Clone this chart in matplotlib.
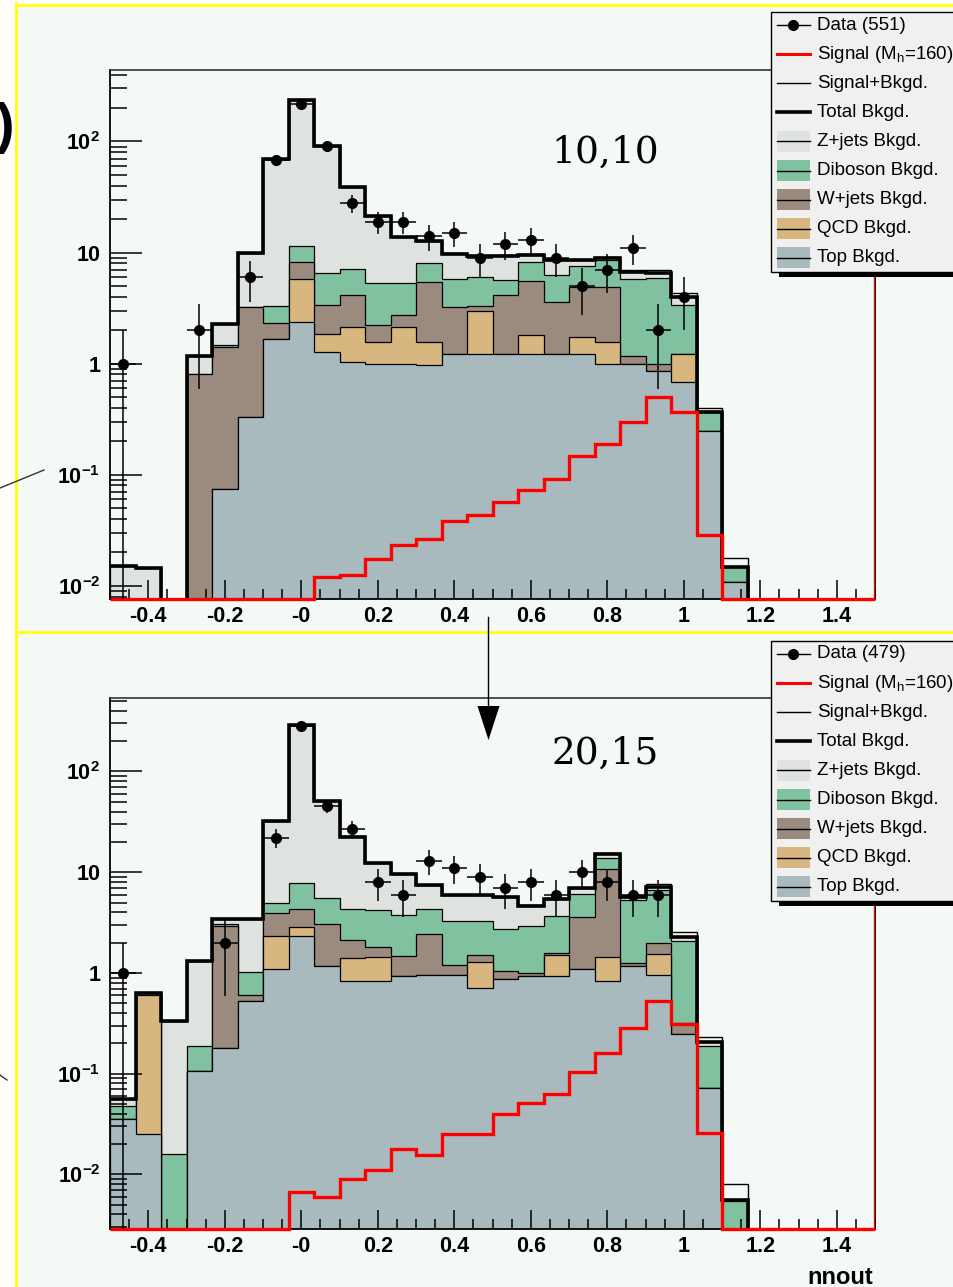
import numpy as np
import matplotlib
matplotlib.use("Agg")
import matplotlib.pyplot as plt
from matplotlib.patches import Rectangle, Polygon
from matplotlib.ticker import LogLocator, MultipleLocator, NullFormatter

plt.rcParams['font.family'] = ['Liberation Sans', 'DejaVu Sans']
plt.rcParams['mathtext.fontset'] = 'custom'
plt.rcParams['mathtext.rm'] = 'Liberation Sans'
plt.rcParams['mathtext.default'] = 'regular'

# nnout histograms: 30 bins from -0.5 to 1.5
edges = np.linspace(-0.5, 1.5, 31)

# cut 10,10
data_1010 = [1, 0, 0, 2, 0, 6, 68, 216, 91, 28, 19, 19, 14, 15, 9, 12, 13, 9, 5, 7,
             11, 2, 4, 0, 0, 0, 0, 0, 0, 0]
signal_1010 = [0, 0, 0, 0, 0, 0, 0, 0, 0.012, 0.0125, 0.0175, 0.0234, 0.0262, 0.0385,
               0.0434, 0.057, 0.0728, 0.0915, 0.146, 0.189, 0.30, 0.497, 0.364, 0.0288,
               0.0028, 0, 0, 0, 0, 0]
ttbar_1010 = [0, 0, 0, 0, 0.074, 0.333, 1.67, 2.35, 1.28, 1.03, 1.0, 0.99, 0.97, 1.22,
              1.22, 1.22, 1.22, 1.22, 1.22, 1.0, 1.0, 0.865, 0.68, 0.249, 0.0107,
              0, 0, 0, 0, 0]
qcd_1010 = [0, 0, 0, 0, 0, 0, 0, 3.41, 0.58, 1.12, 0.58, 1.16, 0.58, 0, 1.78, 0, 0.59,
            0, 0.51, 0.56, 0, 0, 0.54, 0, 0, 0, 0, 0, 0, 0]
wjets_1010 = [0, 0, 0, 0.80, 1.33, 2.90, 0.63, 2.44, 1.50, 1.98, 0.65, 0.58, 3.85, 2.01,
              0.27, 2.94, 3.79, 2.35, 3.14, 3.31, 0.18, 0.135, 0, 0, 0, 0, 0, 0, 0, 0]
diboson_1010 = [0, 0, 0, 0, 0.07, 0, 1.0, 3.2, 3.14, 3.02, 3.13, 2.63, 2.6, 2.53, 2.81,
                1.54, 2.7, 2.73, 2.73, 3.63, 4.62, 4.87, 2.16, 0.116, 0.0041,
                0, 0, 0, 0, 0]
zjets_1010 = [0.015, 0.0145, 0, 0.36, 0.79, 6.77, 66.3, 226.6, 84.2, 31.55, 16.04, 8.54,
              4.7, 4.04, 3.18, 3.7, 1.3, 2.2, 0.9, 0.4, 0.85, 0.63, 0.58, 0.005,
              0, 0, 0, 0, 0, 0]

# cut 20,15
data_2015 = [1, 0, 0, 0, 2, 0, 22, 284, 45, 27, 8, 6, 13, 11, 9, 7, 8, 6, 10, 8,
             6, 6, 0, 0, 0, 0, 0, 0, 0, 0]
signal_2015 = [0, 0, 0, 0, 0, 0, 0, 0.00676, 0.00598, 0.00898, 0.011, 0.0177, 0.0156,
               0.0253, 0.025, 0.04, 0.051, 0.063, 0.105, 0.16, 0.287, 0.527, 0.312,
               0.0257, 0.0025, 0, 0, 0, 0, 0]
ttbar_2015 = [0.0351, 0.0251, 0, 0.107, 0.18, 0.523, 1.1, 2.34, 1.17, 0.83, 0.83, 0.94,
              0.96, 0.96, 0.71, 0.866, 0.93, 0.93, 1.1, 0.84, 1.16, 0.955, 0.246,
              0.0728, 0, 0, 0, 0, 0, 0]
qcd_2015 = [0, 0.575, 0, 0, 0, 0, 1.21, 0.53, 0, 0.58, 0.61, 0, 0, 0, 0.57, 0, 0, 0.58,
            0, 0.61, 0, 0.575, 0, 0, 0, 0, 0, 0, 0, 0]
wjets_2015 = [0, 0, 0, 0, 2.72, 0.087, 1.61, 1.48, 1.9, 0.71, 0.37, 0.53, 1.48, 0.24,
              0.22, 0.184, 0.06, 0.06, 2.52, 9.25, 0.09, 0.44, 0.075, 0, 0, 0, 0, 0, 0, 0]
diboson_2015 = [0.0129, 0, 0.0159, 0.082, 0.16, 0.41, 1.08, 3.42, 2.45, 2.23, 2.37, 2.29,
                1.91, 2.08, 1.78, 1.67, 1.94, 2.11, 2.46, 3.0, 4.05, 4.69, 1.73, 0.116,
                0.0055, 0, 0, 0, 0, 0]
zjets_2015 = [0.008, 0.03, 0.315, 1.11, 0.4, 2.44, 26.9, 281, 44.9, 18.25, 8.12, 5.84,
              3.05, 2.61, 2.61, 2.92, 1.69, 1.74, 0.84, 1.5, 0.34, 0.52, 0.21, 0.019,
              0.0001, 0, 0, 0, 0, 0]

xtick_vals = [-0.4, -0.2, 0, 0.2, 0.4, 0.6, 0.8, 1.0, 1.2, 1.4]
xtick_labels = ['-0.4', '-0.2', '-0', '0.2', '0.4', '0.6', '0.8', '1', '1.2', '1.4']
ytick_vals = [1e-2, 1e-1, 1, 10, 100]
ytick_labels = ['$10^{-2}$', '$10^{-1}$', '1', '10', '$10^{2}$']

# stack order, bottom to top
bkg_names = ['Top Bkgd.', 'QCD Bkgd.', 'W+jets Bkgd.', 'Diboson Bkgd.', 'Z+jets Bkgd.']
bkg_colors = ['#a9babe', '#d8b67f', '#9b8b7e', '#80c1a0', '#dfe3df']

panel_bg = '#f5f9f6'
W, H = 954, 1287
FLOOR = 1e-6


def px_axes(fig, left, top, right, bottom, **kw):
    return fig.add_axes([left / W, 1 - bottom / H, (right - left) / W, (bottom - top) / H], **kw)


def draw_panel(ax, data, signal, comps, ylim):
    cum = np.cumsum(np.array(comps, dtype=float), axis=0)
    for layer, color in reversed(list(zip(cum, bkg_colors))):
        ax.stairs(np.where(layer > 0, layer, FLOOR), edges, baseline=FLOOR, fill=True,
                  facecolor=color, edgecolor='black', linewidth=0.9)
    total = cum[-1]
    sig = np.array(signal, dtype=float)
    sb = total + sig
    ax.stairs(np.where(sb > 0, sb, FLOOR), edges, baseline=None, color='black', linewidth=1.0)
    ax.stairs(np.where(total > 0, total, FLOOR), edges, baseline=None, color='black', linewidth=2.6)
    ax.stairs(np.clip(sig, ylim[0], None), edges, baseline=None, color='red',
              linewidth=2.4, clip_on=False, zorder=4)
    ax.vlines(edges[-1], ylim[0], ylim[1], color='red', linewidth=2.4, zorder=4)

    d = np.array(data, dtype=float)
    m = d > 0
    centers = 0.5 * (edges[1:] + edges[:-1])
    half = 0.5 * np.diff(edges)
    err = np.sqrt(d[m])
    lower = d[m] - np.maximum(d[m] - err, FLOOR)
    ax.errorbar(centers[m], d[m], xerr=half[m], yerr=[lower, err], fmt='o', color='black',
                ms=7, elinewidth=1.1, capsize=0, zorder=5)

    ax.set_xlim(edges[0], edges[-1])
    ax.set_yscale('log')
    ax.set_ylim(*ylim)
    ax.set_facecolor('none')
    ax.set_xticks(xtick_vals, xtick_labels, fontweight='bold', fontsize=15.5)
    ax.set_yticks(ytick_vals, ytick_labels, fontweight='bold', fontsize=15.5)
    ax.xaxis.set_minor_locator(MultipleLocator(0.05))
    ax.yaxis.set_minor_locator(LogLocator(base=10, subs=np.arange(2, 10)))
    ax.yaxis.set_minor_formatter(NullFormatter())
    ax.tick_params(which='both', direction='in', width=1.1, colors='black')
    ax.tick_params(axis='y', which='major', length=23, pad=7)
    ax.tick_params(axis='y', which='minor', length=12)
    ax.tick_params(axis='x', which='major', length=14, pad=5)
    ax.tick_params(axis='x', which='minor', length=7)
    for side in ['left', 'bottom', 'right']:
        ax.spines[side].set_linewidth(1.3)
    ax.spines['top'].set_linewidth(1.2)
    ax.spines['top'].set_color('#333333')


def draw_legend(ov, top, n_data):
    rows = [
        (f'Data ({n_data})', 'data', None),
        ('Signal (M$_h$=160)', 'line', ('red', 2.2)),
        ('Signal+Bkgd.', 'line', ('black', 1.0)),
        ('Total Bkgd.', 'line', ('black', 2.6)),
    ] + [(name, 'box', color) for name, color in zip(bkg_names[::-1], bkg_colors[::-1])]
    ov.add_patch(Rectangle((779, top + 5), 260, 260, facecolor='black', lw=0, zorder=1))
    ov.add_patch(Rectangle((771, top), 260, 260, facecolor='#f0f0f0', edgecolor='black',
                           lw=1.0, zorder=2))
    for i, (label, kind, style) in enumerate(rows):
        y = top + 13 + i * 29.1
        if kind == 'data':
            ov.plot([777, 810], [y, y], color='black', lw=1, zorder=3)
            ov.plot([793.5], [y], 'o', color='black', ms=7, zorder=3)
        elif kind == 'line':
            ov.plot([777, 810], [y, y], color=style[0], lw=style[1], zorder=3)
        else:
            ov.add_patch(Rectangle((777, y - 10.5), 33, 21, facecolor=style, lw=0, zorder=3))
            ov.plot([777, 810], [y, y], color='black', lw=1, zorder=4)
        ov.text(817, y, label, fontsize=13.5, va='center', ha='left', zorder=4)


fig = plt.figure(figsize=(W / 100, H / 100), dpi=100, facecolor='white')

bg = fig.add_axes([0, 0, 1, 1], zorder=-1)
bg.set_xlim(0, W)
bg.set_ylim(H, 0)
bg.axis('off')
bg.add_patch(Rectangle((16, 4), W, H, facecolor=panel_bg, lw=0))
yellow = '#ffff22'
bg.plot([16, 16], [3, H], color=yellow, lw=2.3)
bg.plot([16, W], [4.5, 4.5], color=yellow, lw=2.3)
bg.plot([16, W], [632, 632], color=yellow, lw=2.3)

ax1 = px_axes(fig, 110, 70, 875, 599)
draw_panel(ax1, data_1010, signal_1010,
           [ttbar_1010, qcd_1010, wjets_1010, diboson_1010, zjets_1010], (0.0076, 440))

ax2 = px_axes(fig, 110, 698, 875, 1229)
draw_panel(ax2, data_2015, signal_2015,
           [ttbar_2015, qcd_2015, wjets_2015, diboson_2015, zjets_2015], (0.00287, 536))

ov = fig.add_axes([0, 0, 1, 1], zorder=10)
ov.set_xlim(0, W)
ov.set_ylim(H, 0)
ov.axis('off')
ov.patch.set_alpha(0)

draw_legend(ov, 12, sum(data_1010))
draw_legend(ov, 641, sum(data_2015))

ov.text(605, 153, '10,10', family='DejaVu Serif', fontsize=27, ha='center', va='center')
ov.text(605, 754, '20,15', family='DejaVu Serif', fontsize=27, ha='center', va='center')
ov.text(840, 1277, 'nnout', fontsize=17, fontweight='bold', ha='center', va='center')

# arrow between the two cuts
ov.plot([488.5, 488.5], [617, 710], color='black', lw=1)
ov.add_patch(Polygon([[477.5, 706], [499.5, 706], [488.5, 740]], closed=True,
                     facecolor='black', lw=0))

# bits of neighbouring drawing along the left edge
ov.text(14, 128, ')', fontsize=40, fontweight='bold', ha='right', va='center')
ov.plot([0, 44], [488, 470], color='#333333', lw=1)
ov.plot([0, 7], [1075, 1080], color='#333333', lw=1)

fig.savefig('out.png', dpi=100, facecolor='white')
